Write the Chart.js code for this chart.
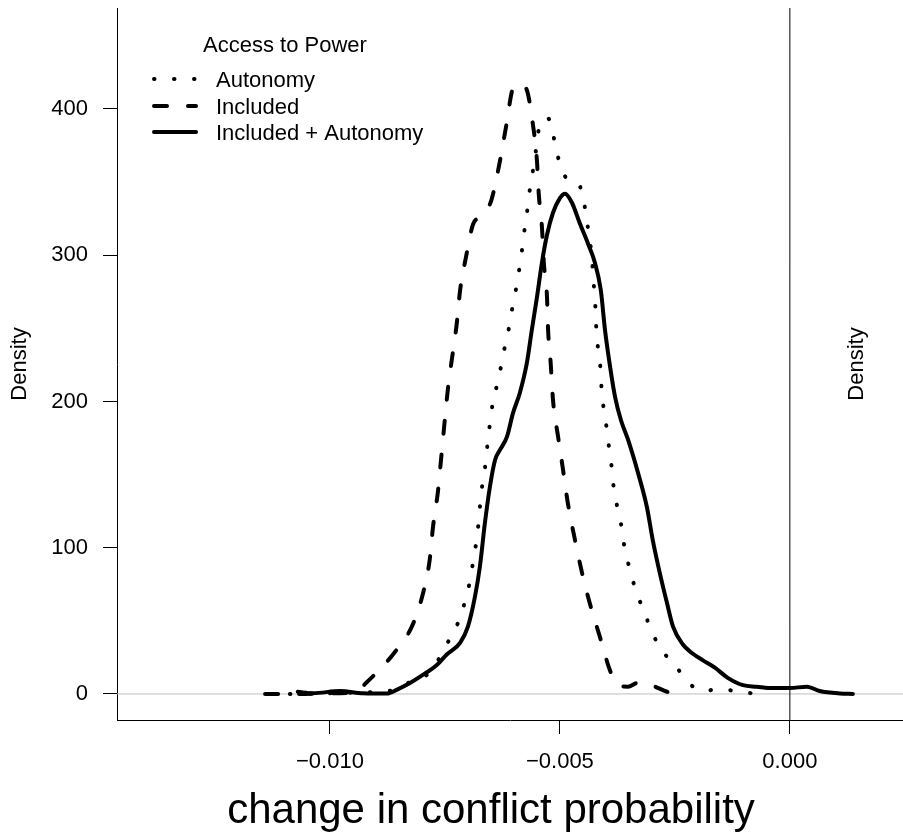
<!DOCTYPE html>
<html>
<head>
<meta charset="utf-8">
<script src="https://cdn.jsdelivr.net/npm/chart.js@4"></script>
<style>
  body { margin: 0; background: #fff; }
  canvas { display: block; }
</style>
</head>
<body>
<canvas id="graph" width="903" height="836"></canvas>
<script>
// Density curves (x = change in conflict probability, y = density)
const autonomyX = [-0.01087, -0.01000, -0.00935, -0.00891, -0.00859, -0.00835, -0.00815, -0.00793, -0.00767, -0.00748,
  -0.00728, -0.00713, -0.00702, -0.00693, -0.00687, -0.00680, -0.00676, -0.00672, -0.00667, -0.00661,
  -0.00657, -0.00652, -0.00646, -0.00637, -0.00628, -0.00620, -0.00611, -0.00604, -0.00596, -0.00589,
  -0.00583, -0.00578, -0.00572, -0.00567, -0.00561, -0.00554, -0.00550, -0.00539, -0.00530, -0.00522,
  -0.00513, -0.00504, -0.00491, -0.00474, -0.00459, -0.00448, -0.00441, -0.00437, -0.00430, -0.00428,
  -0.00424, -0.00422, -0.00420, -0.00415, -0.00411, -0.00409, -0.00404, -0.00398, -0.00393, -0.00387,
  -0.00383, -0.00376, -0.00367, -0.00361, -0.00352, -0.00341, -0.00328, -0.00313, -0.00298, -0.00276,
  -0.00248, -0.00224, -0.00191, -0.00150, -0.00111, -0.00065];
const autonomyY = [0, 0.5, 1, 1.5, 3, 7, 9, 12, 22, 33,
  44, 56, 69, 81, 95, 107, 121, 134, 147, 159,
  172, 185, 199, 211, 224, 237, 250, 263, 276, 289,
  302, 315, 328, 341, 354, 366, 379, 392, 394, 392,
  380, 367, 355, 351, 349, 336, 324, 312, 298, 285,
  272, 258, 245, 232, 219, 206, 194, 181, 168, 154,
  141, 129, 116, 103, 90, 77, 65, 53, 41, 29,
  19, 9, 2, 3.4, 1.4, 0];

const includedX = [-0.01141, -0.01076, -0.01000, -0.00946, -0.00920, -0.00891, -0.00863, -0.00822, -0.00800, -0.00783,
  -0.00776, -0.00765, -0.00757, -0.00743, -0.00733, -0.00724, -0.00717, -0.00704, -0.00689, -0.00674,
  -0.00665, -0.00652, -0.00646, -0.00630, -0.00617, -0.00602, -0.00587, -0.00572, -0.00559, -0.00550,
  -0.00546, -0.00539, -0.00535, -0.00528, -0.00526, -0.00520, -0.00515, -0.00504, -0.00494, -0.00483,
  -0.00467, -0.00452, -0.00435, -0.00413, -0.00391, -0.00374, -0.00352, -0.00333, -0.00315, -0.00293,
  -0.00267, -0.00246];
const includedY = [0, 0, 0.5, 1, 8, 17, 27, 46, 66, 92,
  114, 139, 165, 210, 233, 254, 276, 299, 321, 326,
  329, 335, 341, 365, 388, 414, 417, 413, 390, 365,
  342, 319, 295, 271, 251, 226, 201, 176, 155, 131,
  105, 83, 62, 39, 16, 6, 5, 7.5, 8, 5,
  1.5, 0];

const bothX = [-0.01070, -0.01037, -0.00978, -0.00928, -0.00876, -0.00854, -0.00826, -0.00798, -0.00767, -0.00746,
  -0.00717, -0.00700, -0.00685, -0.00674, -0.00663, -0.00652, -0.00641, -0.00630, -0.00615, -0.00602,
  -0.00587, -0.00572, -0.00561, -0.00550, -0.00539, -0.00528, -0.00515, -0.00500, -0.00489, -0.00474,
  -0.00457, -0.00439, -0.00424, -0.00411, -0.00402, -0.00391, -0.00380, -0.00367, -0.00352, -0.00330,
  -0.00311, -0.00298, -0.00283, -0.00267, -0.00254, -0.00233, -0.00213, -0.00189, -0.00163, -0.00135,
  -0.00102, -0.00072, -0.00037, 0.00000, 0.00037, 0.00065, 0.00109, 0.00137];
const bothY = [1.5, 0.5, 2, 0.5, 0.3, 3, 7.5, 13, 20, 27,
  35, 46, 66, 87, 117, 142, 160, 167, 176, 192,
  206, 226, 249, 271, 295, 314, 329, 339, 342, 336,
  322, 308, 295, 276, 249, 224, 203, 187, 174, 151,
  128, 105, 83, 62, 46, 34, 28, 23, 18, 11,
  6, 5, 4, 4, 5, 2, 0.3, 0];

const seriesNames = ['Autonomy', 'Included', 'Included + Autonomy'];
const xTicks = [-0.010, -0.005, 0.000];
const yTicks = [0, 100, 200, 300, 400];
const xMin = -0.01463, xMax = 0.00246;
const yMin = -17.8, yMax = 469;

const FONT = "'Liberation Sans', Arial, sans-serif";
const dotDash = [0.5, 19.5];
const longDash = [13, 21];

function toPoints(xs, ys) {
  return xs.map((x, i) => ({ x: x, y: ys[i] }));
}

function curve(label, xs, ys, dash) {
  return {
    label: label,
    data: toPoints(xs, ys),
    borderColor: '#000',
    borderWidth: 4,
    borderDash: dash,
    borderCapStyle: 'round',
    borderJoinStyle: 'round',
    cubicInterpolationMode: 'monotone',
    pointRadius: 0,
    showLine: true,
    order: 1
  };
}

// Legend, right-hand label and axis title, drawn on top
const annotations = {
  id: 'annotations',
  afterDraw(chart) {
    const ctx = chart.ctx;
    ctx.save();
    ctx.fillStyle = '#000';
    ctx.font = '22px ' + FONT;

    // right-hand "Density"
    ctx.save();
    ctx.translate(857, 364);
    ctx.rotate(-Math.PI / 2);
    ctx.textAlign = 'center';
    ctx.textBaseline = 'middle';
    ctx.fillText('Density', 0, 0);
    ctx.restore();

    // legend
    ctx.textAlign = 'center';
    ctx.textBaseline = 'alphabetic';
    ctx.fillText('Access to Power', 285, 52);
    const dashes = [dotDash, longDash, []];
    const rows = [87, 114, 140];
    ctx.textAlign = 'left';
    ctx.strokeStyle = '#000';
    ctx.lineWidth = 4;
    ctx.lineCap = 'round';
    seriesNames.forEach((name, i) => {
      const y = rows[i] - 8;
      ctx.setLineDash(dashes[i]);
      ctx.beginPath();
      ctx.moveTo(154, y);
      ctx.lineTo(196, y);
      ctx.stroke();
      ctx.fillText(name, 216, rows[i]);
    });
    ctx.setLineDash([]);

    // x axis title
    ctx.font = '42px ' + FONT;
    ctx.textAlign = 'center';
    ctx.fillText('change in conflict probability', 491, 823);
    ctx.restore();
  }
};

const config = {
  type: 'scatter',
  data: {
    datasets: [
      curve(seriesNames[0], autonomyX, autonomyY, dotDash),
      curve(seriesNames[1], includedX, includedY, longDash),
      curve(seriesNames[2], bothX, bothY, []),
      {
        label: 'zero',
        data: [{ x: xMin, y: 0 }, { x: xMax, y: 0 }],
        borderColor: '#bebebe',
        borderWidth: 1,
        pointRadius: 0,
        showLine: true,
        order: 3
      },
      {
        label: 'origin',
        data: [{ x: 0, y: yMin }, { x: 0, y: yMax }],
        borderColor: '#000',
        borderWidth: 1,
        pointRadius: 0,
        showLine: true,
        order: 2
      }
    ]
  },
  options: {
    responsive: false,
    animation: false,
    devicePixelRatio: 1,
    layout: { padding: { top: 8, left: 0, right: 0, bottom: 0 } },
    plugins: {
      legend: { display: false },
      tooltip: { enabled: false }
    },
    scales: {
      x: {
        type: 'linear',
        min: xMin,
        max: xMax,
        afterBuildTicks: (scale) => { scale.ticks = xTicks.map(v => ({ value: v })); },
        afterFit: (scale) => {
          scale.height = 116;
          scale.paddingLeft = 0;
          scale.paddingRight = 0;
        },
        border: { display: true, color: '#000', width: 1 },
        grid: { display: true, drawOnChartArea: false, drawTicks: true, tickLength: 14, color: '#000', lineWidth: 1 },
        ticks: {
          color: '#000',
          padding: 15,
          maxRotation: 0,
          font: { family: FONT, size: 22 },
          callback: (v) => (v < 0 ? '\u2212' : '') + Math.abs(v).toFixed(3)
        }
      },
      y: {
        type: 'linear',
        min: yMin,
        max: yMax,
        afterBuildTicks: (scale) => { scale.ticks = yTicks.map(v => ({ value: v })); },
        afterFit: (scale) => {
          scale.width = 117;
          scale.paddingTop = 0;
          scale.paddingBottom = 0;
        },
        border: { display: true, color: '#000', width: 1 },
        grid: { display: true, drawOnChartArea: false, drawTicks: true, tickLength: 14, color: '#000', lineWidth: 1 },
        ticks: {
          color: '#000',
          padding: 15,
          font: { family: FONT, size: 22 }
        },
        title: {
          display: true,
          text: 'Density',
          color: '#000',
          padding: { top: 7, bottom: 0 },
          font: { family: FONT, size: 22 }
        }
      }
    }
  },
  plugins: [annotations]
};

const myChart = new Chart(document.getElementById('graph').getContext('2d'), config);
</script>
</body>
</html>
